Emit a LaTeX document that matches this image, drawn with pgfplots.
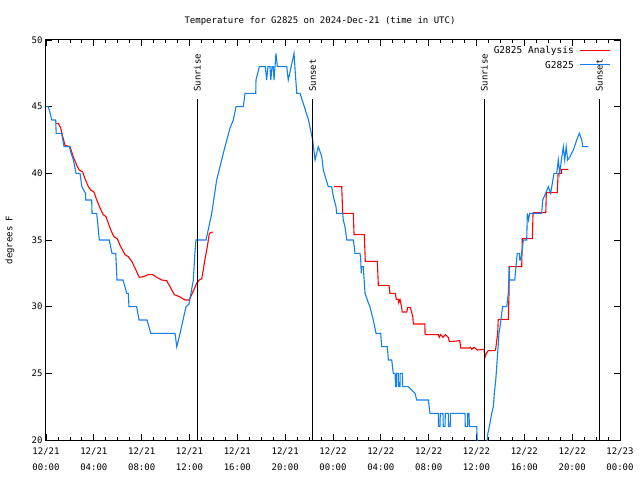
\documentclass[border=0pt]{standalone}
\usepackage{fontspec}
\setmainfont{DejaVu Sans Mono}
\usepackage{pgfplots}
\pgfplotsset{compat=1.18}
\definecolor{obsblue}{RGB}{16,128,240}
\begin{document}
\begin{tikzpicture}
\begin{axis}[
  at={(0,0)}, anchor=south west,
  scale only axis, width=574pt, height=400pt,
  xmin=0, xmax=48, ymin=20, ymax=50,
  xtick={0,4,...,48},
  xticklabels={12/21\\00:00,12/21\\04:00,12/21\\08:00,12/21\\12:00,12/21\\16:00,12/21\\20:00,12/22\\00:00,12/22\\04:00,12/22\\08:00,12/22\\12:00,12/22\\16:00,12/22\\20:00,12/23\\00:00},
  minor x tick num=3,
  ytick={20,25,...,50},
  tick align=inside,
  major tick length=6pt, minor tick length=3pt,
  every tick/.style={black, line width=0.8pt},
  axis line style={line width=1pt},
  xticklabel style={align=center, yshift=-4pt, font=\fontsize{9}{16}\selectfont},
  yticklabel style={font=\fontsize{9}{11}\selectfont},
  /pgf/number format/assume math mode=true,
  ylabel={degrees F},
  ylabel style={at={(rel axis cs:0,0.5)}, yshift=36pt, anchor=center, font=\fontsize{9}{11}\selectfont},
  title={Temperature for G2825 on 2024-Dec-21 (time in UTC)},
  title style={at={(rel axis cs:0.5,1)}, anchor=center, yshift=13pt, xshift=-13pt, font=\fontsize{9}{11}\selectfont},
  unbounded coords=jump,
]
\addplot[red, line width=1.1pt] coordinates {
(0.84,43.75) (1.03,43.75) (1.23,43.4) (1.40,42.75) (1.59,42.1) (2.01,42) (2.15,41.6) (2.28,41.25)
(2.57,40.6) (2.78,40.25) (3.07,40.1) (3.26,39.6) (3.54,39) (3.74,38.75) (4.01,38.6) (4.24,38)
(4.52,37.4) (4.79,36.9) (5.02,36.75) (5.21,36.25) (5.49,35.6) (5.69,35.25) (5.96,35.1) (6.19,34.6)
(6.61,33.9) (6.88,33.75) (7.17,33.4) (7.44,32.9) (7.80,32.2) (8.14,32.25) (8.55,32.4) (8.92,32.4)
(9.26,32.2) (9.68,32) (10.09,31.95) (10.43,31.4) (10.73,30.9) (11.15,30.75) (11.62,30.5) (11.98,30.5)
(12.18,30.9) (12.38,31.3) (12.60,31.75) (12.82,32) (13.02,32.1) (13.15,32.75) (13.30,33.6) (13.49,34.5)
(13.66,35.5) (13.94,35.6)
(18,nan)
(24.08,39) (24.73,39) (24.81,37) (25.70,37) (25.76,35.4) (26.62,35.4) (26.70,33.4) (27.71,33.4)
(27.79,31.6) (28.68,31.6) (28.76,31.0) (29.2,31.0) (29.3,30.55) (29.46,30.55) (29.5,30.3) (29.6,30.55)
(29.71,30.1) (29.79,29.6) (30.17,29.6) (30.25,29.95) (30.45,29.95) (30.53,29.75) (30.67,29.25) (30.72,28.7)
(31.68,28.7) (31.70,27.9) (32.81,27.9) (32.89,27.7) (33.0,27.9) (33.2,27.7) (33.4,27.9) (33.64,27.7)
(33.72,27.4) (34.06,27.4) (34.6,27.45) (34.68,26.9) (35.4,26.9) (35.5,26.95) (35.6,26.8) (35.8,26.95)
(36.07,26.75) (36.63,26.8) (36.71,26.2) (36.82,26.5) (36.98,26.7) (37.55,26.7) (37.6,26.8) (37.77,28)
(37.82,29.05) (38.66,29.05) (38.72,31.05) (38.74,33) (39.78,33) (39.83,35.1) (40.67,35.1) (40.73,37.05)
(41.79,37.05) (41.84,38.55) (42.76,38.55) (42.82,40) (43.1,40) (43.13,40.3) (43.69,40.3)
};
\addplot[obsblue, line width=1.1pt] coordinates {
(0.0,45) (0.19,45) (0.35,44.5) (0.48,44) (0.81,44) (0.85,43) (1.31,43) (1.51,42) (1.95,42) (2.1,41.5)
(2.3,41) (2.51,40) (2.84,40) (3.0,39) (3.3,38.5) (3.32,38) (3.82,38) (3.85,37) (4.24,37) (4.46,35)
(5.29,35) (5.4,34.5) (5.52,34) (5.83,34) (5.94,32) (6.44,32) (6.6,31.5) (6.75,31) (6.88,31) (6.94,30)
(7.58,30) (7.78,29) (8.45,29) (8.76,28) (10.79,28) (10.93,27) (11.21,28) (11.71,30) (11.96,30.2)
(12.32,32) (12.45,34) (12.54,35) (13.38,35) (13.55,35.7) (13.86,37) (14.27,39.5) (14.55,40.5)
(14.97,42) (15.39,43.4) (15.66,44) (15.89,45) (16.50,45) (16.64,46) (17.54,46) (17.56,47) (17.84,48)
(18.34,48) (18.45,47) (18.56,48) (18.73,48) (18.80,47) (18.90,48) (19.0,48) (19.07,47) (19.23,49) (19.35,48)
(19.48,48) (20.13,48) (20.26,47) (20.5,48) (20.74,49) (20.85,47.5) (20.97,46) (21.24,46) (21.6,45)
(21.95,44) (22.30,42.5) (22.50,41) (22.77,42) (23.06,41.25) (23.19,40.25) (23.47,39.4) (23.61,39)
(23.89,39) (24.03,38.25) (24.25,37.5) (24.31,37) (24.81,37) (24.86,36.5) (25.00,36) (25.15,35)
(25.70,35) (25.78,34.5) (25.84,34) (26.26,34) (26.32,33.5) (26.36,32.5) (26.40,33) (26.53,33) (26.68,31) (26.95,30.3)
(27.09,30) (27.37,29) (27.60,28) (27.99,28) (28.07,27) (28.54,27) (28.63,26) (28.91,26) (29.04,25)
(29.2,25) (29.22,24) (29.3,24) (29.32,25) (29.46,25) (29.48,24) (29.6,24) (29.62,25) (29.8,25) (29.82,24) (30.30,24)
(30.86,23.5) (31.00,23) (31.97,23) (32.11,22) (32.81,22) (32.83,21) (32.95,21) (32.97,22) (33.2,22) (33.22,21) (33.37,21)
(33.39,22) (33.64,22) (33.66,21) (33.8,21) (33.82,22) (35.04,22) (35.06,21) (35.25,21) (35.27,22) (35.38,22) (35.40,21) (36.02,21)
(36.06,20) (36.3,19) (36.8,19) (36.95,20.5) (37.07,21) (37.27,22) (37.41,22.5) (37.49,23.5) (37.61,24.5)
(37.69,25.5) (37.77,26.5) (37.88,28) (37.97,28.5) (38.11,29.5) (38.19,30) (38.53,30) (38.66,31)
(38.74,33) (38.76,32) (39.20,32) (39.30,33) (39.41,34) (39.6,34) (39.62,33.5) (39.7,33.5) (39.78,34) (39.92,35) (40.20,35)
(40.25,37) (40.35,36.5) (40.45,37) (41.45,37) (41.54,38) (42.01,39) (42.2,38.5) (42.48,40) (42.71,40)
(42.84,41) (42.96,40) (43.1,41) (43.26,42) (43.38,41) (43.5,42) (43.62,41) (43.82,41.25) (44.10,41.75)
(44.38,42.5) (44.60,43) (44.80,42.5) (44.88,42) (45.35,42)
};
\addplot[black, line width=1pt] coordinates {(12.66,20) (12.66,45.6)};
\addplot[black, line width=1pt] coordinates {(22.30,20) (22.30,45.6)};
\addplot[black, line width=1pt] coordinates {(36.65,20) (36.65,45.6)};
\addplot[black, line width=1pt] coordinates {(46.27,20) (46.27,45.6)};
\node[rotate=90, anchor=west, inner sep=0pt, font=\fontsize{9}{11}\selectfont] at (axis cs:12.66,46.1) {Sunrise};
\node[rotate=90, anchor=west, inner sep=0pt, font=\fontsize{9}{11}\selectfont] at (axis cs:22.30,46.1) {Sunset};
\node[rotate=90, anchor=west, inner sep=0pt, font=\fontsize{9}{11}\selectfont] at (axis cs:36.65,46.1) {Sunrise};
\node[rotate=90, anchor=west, inner sep=0pt, font=\fontsize{9}{11}\selectfont] at (axis cs:46.27,46.1) {Sunset};
% legend
\node[anchor=east, inner sep=0pt, font=\fontsize{9.5}{11}\selectfont] at (rel axis cs:0.9199,0.9735) {G2825 Analysis};
\node[anchor=east, inner sep=0pt, font=\fontsize{9.5}{11}\selectfont] at (rel axis cs:0.9199,0.9385) {G2825};
\draw[draw=red, line width=1.3pt] (rel axis cs:0.9303,0.9745) -- (rel axis cs:0.9826,0.9745);
\draw[draw=obsblue, line width=1.3pt] (rel axis cs:0.9303,0.9395) -- (rel axis cs:0.9826,0.9395);
\end{axis}
\pgfresetboundingbox
\path[use as bounding box] (-46pt,-40pt) rectangle (594pt,440pt);
\end{tikzpicture}
\end{document}
